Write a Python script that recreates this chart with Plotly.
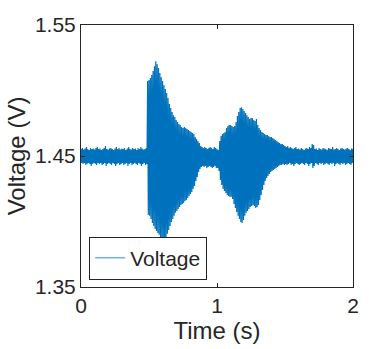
"""Voltage trace recreated with Plotly"""

import numpy as np
import plotly.graph_objects as go

# Sample times (s), one envelope reading every 10 ms
time_s = np.round(np.arange(201) * 0.01, 2)

# Upper edge of the trace (V) at each sample time
upper_v = [
    1.4553, 1.4561, 1.4549, 1.4557, 1.4569, 1.4553, 1.4546, 1.4561, 1.4553, 1.4557,
    1.4549, 1.4561, 1.4569, 1.4553, 1.4557, 1.4546, 1.4553, 1.4561, 1.4576, 1.4553,
    1.4549, 1.4557, 1.4561, 1.4553, 1.4546, 1.4557, 1.4569, 1.4553, 1.4561, 1.4549,
    1.4557, 1.4553, 1.4561, 1.4546, 1.4557, 1.4569, 1.4553, 1.4549, 1.4561, 1.4553,
    1.4557, 1.4546, 1.4561, 1.4553, 1.4569, 1.4557, 1.4549, 1.4553, 1.4561, 1.5072,
    1.5080, 1.5095, 1.5118, 1.5148, 1.5186, 1.5224, 1.5201, 1.5171, 1.5133, 1.5102,
    1.5072, 1.5041, 1.5011, 1.4980, 1.4942, 1.4896, 1.4866, 1.4835, 1.4812, 1.4797,
    1.4774, 1.4759, 1.4744, 1.4736, 1.4721, 1.4713, 1.4721, 1.4713, 1.4706, 1.4698,
    1.4691, 1.4683, 1.4675, 1.4668, 1.4645, 1.4630, 1.4614, 1.4599, 1.4576, 1.4569,
    1.4561, 1.4569, 1.4561, 1.4553, 1.4561, 1.4569, 1.4561, 1.4553, 1.4569, 1.4561,
    1.4553, 1.4546, 1.4614, 1.4652, 1.4668, 1.4675, 1.4683, 1.4713, 1.4729, 1.4736,
    1.4736, 1.4729, 1.4721, 1.4729, 1.4759, 1.4805, 1.4835, 1.4866, 1.4873, 1.4858,
    1.4843, 1.4828, 1.4812, 1.4797, 1.4782, 1.4790, 1.4790, 1.4774, 1.4767, 1.4782,
    1.4736, 1.4713, 1.4698, 1.4683, 1.4675, 1.4668, 1.4660, 1.4660, 1.4652, 1.4645,
    1.4645, 1.4637, 1.4630, 1.4622, 1.4614, 1.4607, 1.4599, 1.4591, 1.4591, 1.4584,
    1.4576, 1.4569, 1.4576, 1.4561, 1.4569, 1.4561, 1.4553, 1.4561, 1.4569, 1.4553,
    1.4557, 1.4549, 1.4561, 1.4553, 1.4546, 1.4557, 1.4561, 1.4553, 1.4569, 1.4561,
    1.4591, 1.4584, 1.4553, 1.4557, 1.4546, 1.4561, 1.4553, 1.4549, 1.4561, 1.4557,
    1.4553, 1.4546, 1.4561, 1.4557, 1.4553, 1.4569, 1.4549, 1.4553, 1.4561, 1.4553,
    1.4546, 1.4557, 1.4561, 1.4553, 1.4549, 1.4557, 1.4561, 1.4553, 1.4546, 1.4557,
    1.4553,
]

# Lower edge of the trace (V) at each sample time
lower_v = [
    1.4447, 1.4439, 1.4447, 1.4431, 1.4439, 1.4447, 1.4439, 1.4424, 1.4439, 1.4447,
    1.4439, 1.4431, 1.4447, 1.4439, 1.4447, 1.4431, 1.4439, 1.4447, 1.4424, 1.4439,
    1.4447, 1.4439, 1.4431, 1.4447, 1.4439, 1.4424, 1.4439, 1.4447, 1.4431, 1.4439,
    1.4447, 1.4431, 1.4439, 1.4447, 1.4424, 1.4439, 1.4447, 1.4431, 1.4439, 1.4447,
    1.4439, 1.4431, 1.4447, 1.4439, 1.4424, 1.4439, 1.4447, 1.4431, 1.4439, 1.4050,
    1.4043, 1.4020, 1.3989, 1.3966, 1.3943, 1.3928, 1.3913, 1.3898, 1.3875, 1.3860,
    1.3845, 1.3837, 1.3868, 1.3906, 1.3936, 1.3966, 1.3997, 1.4020, 1.4043, 1.4066,
    1.4081, 1.4096, 1.4111, 1.4126, 1.4134, 1.4142, 1.4157, 1.4165, 1.4180, 1.4195,
    1.4210, 1.4226, 1.4249, 1.4271, 1.4309, 1.4340, 1.4378, 1.4401, 1.4416, 1.4424,
    1.4416, 1.4424, 1.4409, 1.4416, 1.4424, 1.4416, 1.4409, 1.4416, 1.4424, 1.4409,
    1.4409, 1.4386, 1.4317, 1.4279, 1.4249, 1.4233, 1.4218, 1.4203, 1.4195, 1.4188,
    1.4188, 1.4172, 1.4134, 1.4104, 1.4073, 1.4043, 1.4020, 1.3997, 1.3989, 1.4012,
    1.4043, 1.4066, 1.4081, 1.4096, 1.4111, 1.4119, 1.4126, 1.4119, 1.4104, 1.4111,
    1.4126, 1.4165, 1.4203, 1.4241, 1.4279, 1.4309, 1.4332, 1.4348, 1.4363, 1.4378,
    1.4386, 1.4393, 1.4401, 1.4409, 1.4416, 1.4424, 1.4431, 1.4431, 1.4439, 1.4431,
    1.4439, 1.4431, 1.4439, 1.4447, 1.4431, 1.4439, 1.4424, 1.4439, 1.4447, 1.4439,
    1.4431, 1.4439, 1.4447, 1.4439, 1.4431, 1.4447, 1.4439, 1.4424, 1.4439, 1.4447,
    1.4409, 1.4424, 1.4447, 1.4439, 1.4431, 1.4447, 1.4439, 1.4447, 1.4431, 1.4439,
    1.4447, 1.4439, 1.4431, 1.4447, 1.4439, 1.4447, 1.4424, 1.4439, 1.4447, 1.4439,
    1.4431, 1.4447, 1.4439, 1.4447, 1.4431, 1.4439, 1.4447, 1.4439, 1.4431, 1.4447,
    1.4439,
]

x_ticks = [0, 1, 2]
y_ticks = [1.35, 1.45, 1.55]

# Trace swings from the upper edge to the lower edge within each 10 ms step
trace_x = []
trace_y = []
for t, hi, lo in zip(time_s, upper_v, lower_v):
    trace_x.extend([t, t + 0.005])
    trace_y.extend([hi, lo])

ink = '#262626'
blue = '#0072BD'

figure = go.Figure()
figure.add_trace(go.Scatter(
    x=trace_x, y=trace_y,
    mode='lines',
    name='Voltage',
    showlegend=False,
    line=dict(color=blue, width=1.2),
))

# Legend entry only, so its sample line can stay thin
figure.add_trace(go.Scatter(
    x=[None], y=[None],
    mode='lines',
    name='Voltage',
    line=dict(color=blue, width=0.8),
))

axis_style = dict(
    showgrid=False,
    zeroline=False,
    showline=True,
    linecolor=ink,
    linewidth=1,
    mirror='ticks',
    ticks='inside',
    ticklen=4,
    tickcolor=ink,
    tickfont=dict(size=21, color=ink),
)

figure.update_xaxes(
    range=[0, 2], tickvals=x_ticks,
    title=dict(text='Time (s)', font=dict(size=24, color=ink), standoff=4),
    **axis_style,
)
figure.update_yaxes(
    range=[1.35, 1.55], tickvals=y_ticks, tickformat='.2f',
    title=dict(text='Voltage (V)', font=dict(size=24, color=ink), standoff=2),
    **axis_style,
)

figure.update_layout(
    width=390, height=349,
    font=dict(family='Liberation Sans, Arial, sans-serif', color=ink),
    plot_bgcolor='white',
    paper_bgcolor='white',
    margin=dict(l=81, r=37, t=25, b=62),
    showlegend=True,
    legend=dict(
        x=0.03, y=0.028, xanchor='left', yanchor='bottom',
        bgcolor='white', bordercolor=ink, borderwidth=1,
        font=dict(size=21, color=ink),
        itemwidth=30,
        tracegroupgap=0,
    ),
)

# Drop the page's default 8 px body margin so the figure sits at the corner
figure.write_html(
    "out.html",
    config={'displayModeBar': False},
    post_script="document.body.style.margin = '0';",
)
